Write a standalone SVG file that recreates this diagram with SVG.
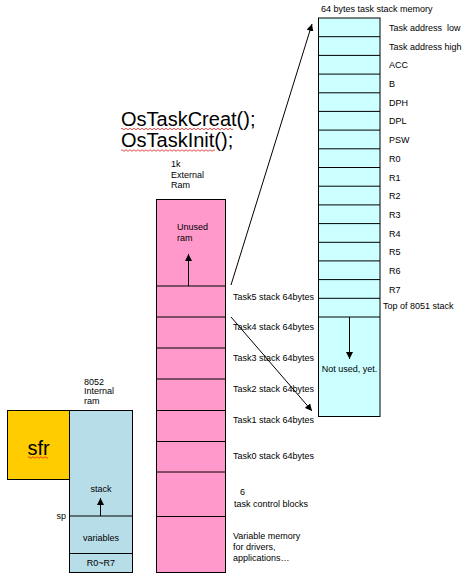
<svg xmlns="http://www.w3.org/2000/svg" width="470" height="581" viewBox="0 0 470 581">
<style>
text{font-family:"Liberation Sans",Arial,sans-serif;font-size:9px;fill:#000}
.big{font-size:20px}
.sfr{font-size:20px}
.box{stroke:#000;stroke-width:1}
.ln{stroke:#000;stroke-width:1;fill:none}
.sq{stroke:#e02020;stroke-width:0.8;fill:none}
.mid{text-anchor:middle}
</style>
<defs>
<marker id="ah" viewBox="0 0 10 10" refX="10" refY="5" markerWidth="7" markerHeight="7" markerUnits="userSpaceOnUse" orient="auto">
<path d="M0,0 L10,5 L0,10 z" fill="#000"/>
</marker>
</defs>

<g id="title">
<text class="big" x="121" y="126">OsTaskCreat();</text>
<text class="big" x="121" y="147">OsTaskInit();</text>
<path class="sq" d="M121,129 q1,-1.5 2,0 t2,0 t2,0 t2,0 t2,0 t2,0 t2,0 t2,0 t2,0 t2,0 t2,0 t2,0 t2,0 t2,0 t2,0 t2,0 t2,0 t2,0 t2,0 t2,0 t2,0 t2,0 t2,0 t2,0 t2,0 t2,0 t2,0 t2,0 t2,0 t2,0 t2,0 t2,0 t2,0 t2,0 t2,0 t2,0 t2,0 t2,0 t2,0 t2,0 t2,0 t2,0 t2,0 t2,0 t2,0 t2,0 t2,0 t2,0 t2,0 t2,0 t2,0 t2,0 t2,0 t2,0 t2,0 t2,0"/>
<path class="sq" d="M121,150.5 q1,-1.5 2,0 t2,0 t2,0 t2,0 t2,0 t2,0 t2,0 t2,0 t2,0 t2,0 t2,0 t2,0 t2,0 t2,0 t2,0 t2,0 t2,0 t2,0 t2,0 t2,0 t2,0 t2,0 t2,0 t2,0 t2,0 t2,0 t2,0 t2,0 t2,0 t2,0 t2,0 t2,0 t2,0 t2,0 t2,0 t2,0 t2,0 t2,0 t2,0 t2,0 t2,0 t2,0 t2,0 t2,0 t2,0 t2,0 t2,0"/>
</g>

<g id="task-stack-memory">
<text x="321" y="12">64 bytes task stack memory</text>
<rect class="box" x="318.5" y="18" width="61.5" height="398.5" fill="#CCFFFF"/>
<path class="ln" d="M318.5,36.7H380M318.5,55.4H380M318.5,74.1H380M318.5,92.8H380M318.5,111.4H380M318.5,130.1H380M318.5,148.8H380M318.5,167.5H380M318.5,186.2H380M318.5,204.9H380M318.5,223.6H380M318.5,242.3H380M318.5,260.9H380M318.5,279.6H380M318.5,298.3H380M318.5,317H380"/>
<text x="389" y="31" xml:space="preserve">Task address  low</text>
<text x="389" y="49.7">Task address high</text>
<text x="389" y="68.4">ACC</text>
<text x="389" y="87.1">B</text>
<text x="389" y="105.8">DPH</text>
<text x="389" y="124.4">DPL</text>
<text x="389" y="143.1">PSW</text>
<text x="389" y="161.8">R0</text>
<text x="389" y="180.5">R1</text>
<text x="389" y="199.2">R2</text>
<text x="389" y="217.9">R3</text>
<text x="389" y="236.6">R4</text>
<text x="389" y="255.3">R5</text>
<text x="389" y="273.9">R6</text>
<text x="389" y="292.6">R7</text>
<text x="383" y="309">Top of 8051 stack</text>
<line class="ln" x1="349.5" y1="317" x2="349.5" y2="359" marker-end="url(#ah)"/>
<text class="mid" x="349.5" y="372">Not used, yet.</text>
</g>

<g id="external-ram">
<text x="171" y="167">1k</text>
<text x="171" y="177.5">External</text>
<text x="171" y="187.5">Ram</text>
<rect class="box" x="156.5" y="199.5" width="69" height="373" fill="#FF99CC"/>
<path class="ln" d="M156.5,286H225.5M156.5,317H225.5M156.5,348H225.5M156.5,379H225.5M156.5,410.5H225.5M156.5,441.5H225.5M156.5,472H225.5M156.5,516.5H225.5"/>
<text x="177" y="230">Unused</text>
<text x="177" y="241">ram</text>
<line class="ln" x1="188.5" y1="286" x2="188.5" y2="254" marker-end="url(#ah)"/>
<text x="233" y="299.5">Task5 stack 64bytes</text>
<text x="233" y="330">Task4 stack 64bytes</text>
<text x="233" y="360.5">Task3 stack 64bytes</text>
<text x="233" y="391.5">Task2 stack 64bytes</text>
<text x="233" y="422.5">Task1 stack 64bytes</text>
<text x="233" y="459">Task0 stack 64bytes</text>
<text x="240" y="495">6</text>
<text x="234" y="507">task control blocks</text>
<text x="233" y="539">Variable memory</text>
<text x="233" y="550">for drivers,</text>
<text x="233" y="561">applications…</text>
</g>

<g id="internal-ram">
<text x="84" y="384.5">8052</text>
<text x="84" y="394">Internal</text>
<text x="84" y="404">ram</text>
<rect class="box" x="7.5" y="410.5" width="62" height="69" fill="#FFCC00"/>
<text class="sfr mid" x="38.5" y="455">sfr</text>
<path class="sq" d="M28,457.5 q1,-1.5 2,0 t2,0 t2,0 t2,0 t2,0 t2,0 t2,0 t2,0 t2,0 t2,0"/>
<rect class="box" x="69.5" y="410.5" width="63" height="162" fill="#B7DDE8"/>
<path class="ln" d="M69.5,516H132.5M69.5,553.5H132.5"/>
<text class="mid" x="101" y="492">stack</text>
<line class="ln" x1="100.5" y1="516" x2="100.5" y2="498" marker-end="url(#ah)"/>
<text x="66" y="519" text-anchor="end">sp</text>
<text class="mid" x="101" y="540.5">variables</text>
<text class="mid" x="101" y="566">R0~R7</text>
</g>

<g id="connectors">
<line class="ln" x1="231" y1="285" x2="312" y2="24" marker-end="url(#ah)"/>
<line class="ln" x1="231" y1="317" x2="312" y2="411" marker-end="url(#ah)"/>
</g>
</svg>
